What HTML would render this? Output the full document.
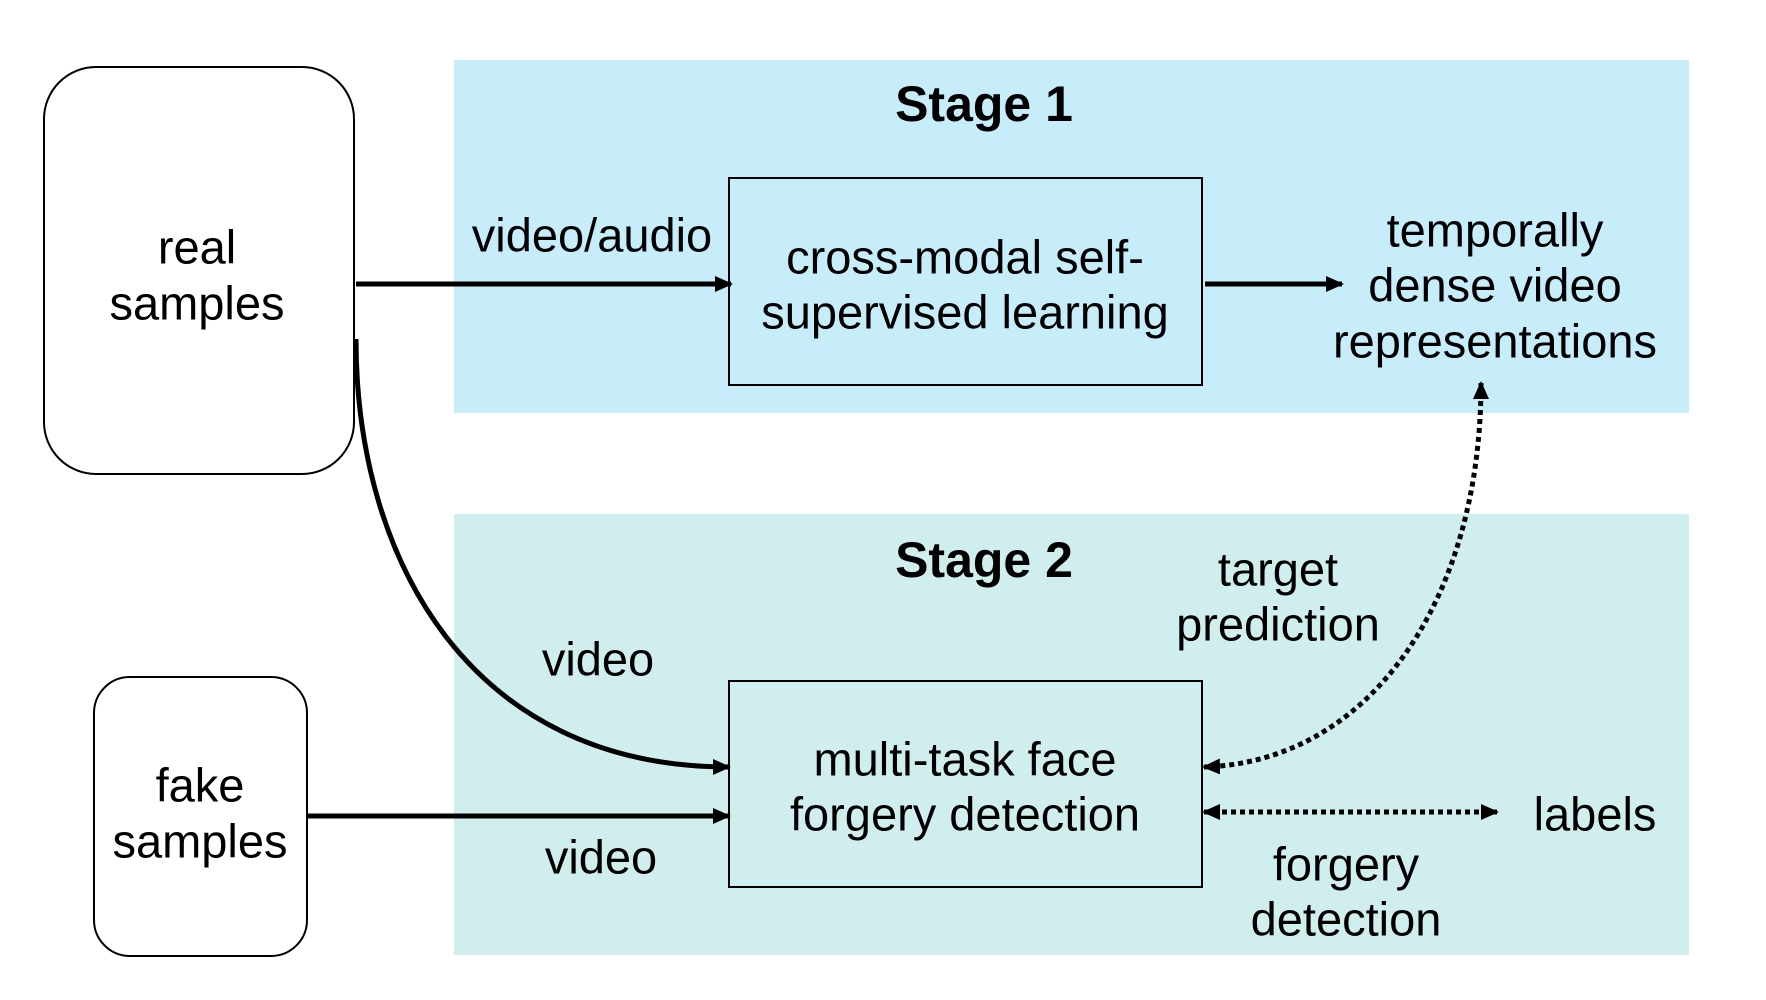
<!DOCTYPE html>
<html><head><meta charset="utf-8"><style>
html,body{margin:0;padding:0;background:#fff;}
svg{display:block;}
text{font-family:"Liberation Sans",Arial,sans-serif;fill:#000;}
</style></head><body>
<svg width="1766" height="1000" viewBox="0 0 1766 1000" xmlns="http://www.w3.org/2000/svg">
<defs>
<marker id="ah2" markerWidth="18" markerHeight="16" refX="16" refY="8" orient="auto-start-reverse" markerUnits="userSpaceOnUse">
<path d="M0,0 L18,8 L0,16 z" fill="#000"/></marker>
</defs>
<rect x="454" y="60" width="1235" height="353" fill="#c7edfb"/>
<rect x="454" y="514" width="1235" height="441" fill="#d1eeef"/>
<rect x="44" y="67" width="310" height="407" rx="52" fill="#fff" stroke="#000" stroke-width="2"/>
<rect x="94" y="677" width="213" height="279" rx="36" fill="#fff" stroke="#000" stroke-width="2"/>
<rect x="729" y="178" width="473" height="207" fill="none" stroke="#000" stroke-width="2"/>
<rect x="729" y="681" width="473" height="206" fill="none" stroke="#000" stroke-width="2"/>
<g stroke="#000" stroke-width="5" fill="none">
<line x1="356" y1="284" x2="731" y2="284" marker-end="url(#ah2)"/>
<line x1="1205" y1="284" x2="1342" y2="284" marker-end="url(#ah2)"/>
<path d="M356,339 C356,560 470,767 729,767" marker-end="url(#ah2)"/>
<line x1="307" y1="816" x2="729" y2="816" marker-end="url(#ah2)"/>
</g>
<g stroke="#000" stroke-width="5" fill="none" stroke-dasharray="5 4">
<path d="M1481,383 C1481,600 1370,762 1204,767" marker-start="url(#ah2)" marker-end="url(#ah2)"/>
<line x1="1204" y1="812" x2="1497" y2="812" marker-start="url(#ah2)" marker-end="url(#ah2)"/>
</g>
<g font-size="47" text-anchor="middle" dominant-baseline="central">
<text x="984" y="104" font-weight="bold" font-size="50">Stage 1</text>
<text x="984" y="560" font-weight="bold" font-size="50">Stage 2</text>
<text x="197" y="247">real</text><text x="197" y="303">samples</text>
<text x="592" y="235">video/audio</text>
<text x="965" y="257">cross-modal self-</text><text x="965" y="312">supervised learning</text>
<text x="1495" y="230">temporally</text><text x="1495" y="285">dense video</text><text x="1495" y="341">representations</text>
<text x="1278" y="569">target</text><text x="1278" y="624">prediction</text>
<text x="598" y="659">video</text>
<text x="965" y="759">multi-task face</text><text x="965" y="814">forgery detection</text>
<text x="200" y="785">fake</text><text x="200" y="841">samples</text>
<text x="601" y="857">video</text>
<text x="1595" y="814">labels</text>
<text x="1346" y="864">forgery</text><text x="1346" y="919">detection</text>
</g>
</svg>
</body></html>
